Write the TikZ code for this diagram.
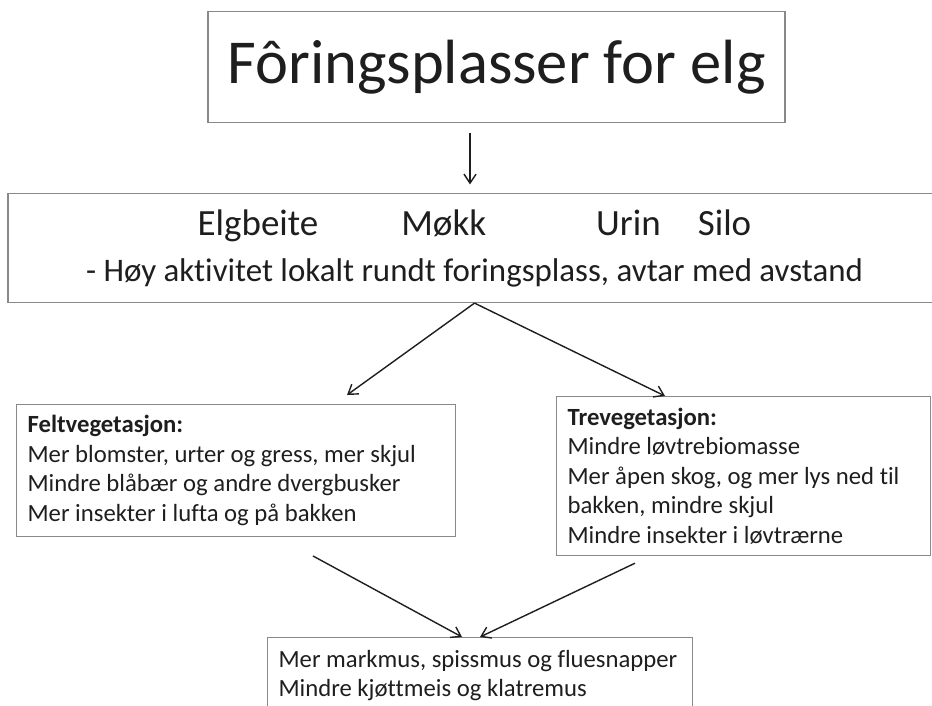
\documentclass[tikz,border=0pt]{standalone}
\usepackage{fontspec}
\setmainfont{Carlito}[RawFeature={-liga;-clig;-calt}]
\usepackage{tikz}
\usetikzlibrary{arrows.meta}
\definecolor{boxgray}{RGB}{137,137,137}
\definecolor{ink}{RGB}{30,30,30}

\begin{document}
\begin{tikzpicture}[x=1pt,y=-1pt,>={Straight Barb[length=9pt,width=12pt]},
  box node/.style={draw=boxgray,line width=1.2pt,inner sep=0pt,text=ink},
  list node/.style={box node,align=flush left,inner xsep=11pt,inner ysep=11pt,font=\fontsize{24.7}{29.4}\selectfont},
  link/.style={->,draw=ink,line width=1.4pt}]
  \useasboundingbox (0,0) rectangle (932,706);
  \node[box node,minimum width=577pt,minimum height=111pt,font=\fontsize{62.5}{75}\selectfont] (1) at (496.5,67) {Fôringsplasser for elg};
  \node[box node,minimum width=933pt,minimum height=109pt,align=center,font=\fontsize{37}{46}\selectfont] (2) at (474.5,248)
    {Elgbeite\hspace{83pt}Møkk\hspace{110pt}Urin\hspace{37pt}Silo\\
     {\fontsize{32.9}{46}\selectfont - Høy aktivitet lokalt rundt foringsplass, avtar med avstand}};
  \node[list node,anchor=north west,text width=417pt,minimum height=130pt] (3) at (16,404)
    {\textbf{Feltvegetasjon:}\\Mer blomster, urter og gress, mer skjul\\Mindre blåbær og andre dvergbusker\\Mer insekter i lufta og på bakken};
  \node[list node,anchor=north west,text width=352pt,minimum height=159pt] (4) at (556,396)
    {\textbf{Trevegetasjon:}\\Mindre løvtrebiomasse\\Mer åpen skog, og mer lys ned til\\bakken, mindre skjul\\Mindre insekter i løvtrærne};
  \node[list node,anchor=north west,text width=403pt,inner ysep=12.5pt] (5) at (267,637)
    {Mer markmus, spissmus og fluesnapper\\Mindre kjøttmeis og klatremus};

  \coordinate (drop) at ([xshift=-4.5pt]2.north);
  \draw[link,shorten <=9.5pt,shorten >=8.5pt] (drop |- 1.south) -- (drop);
  \draw[link] (2.south) -- ([xshift=331pt,yshift=9pt]3.north west);
  \draw[link] (2.south) -- ([xshift=109pt]4.north west);
  \draw[link] ([xshift=297pt,yshift=-19pt]3.south west) -- ([xshift=195pt]5.north west);
  \draw[link] ([xshift=79pt,yshift=-7pt]4.south west) -- ([xshift=213pt]5.north west);
\end{tikzpicture}
\end{document}
